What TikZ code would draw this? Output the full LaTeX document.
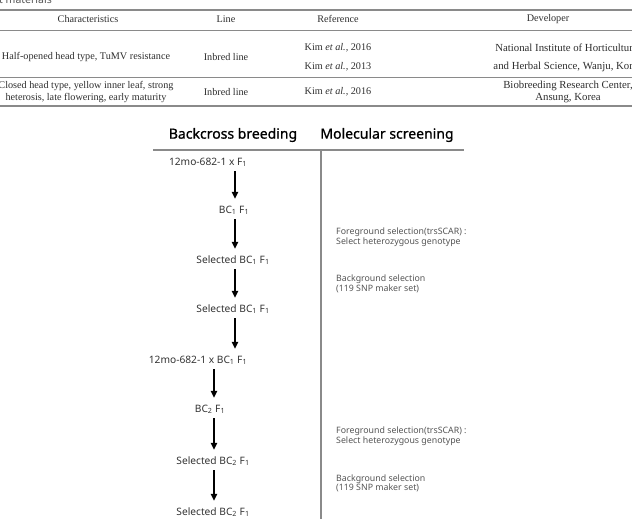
\documentclass[tikz,border=0pt]{standalone}
\usepackage{fontspec}
\setmainfont{Liberation Serif}
\newfontfamily\flowfont{Noto Sans}
\newfontfamily\headfont{Noto Sans}[FakeBold=0.9]
\usetikzlibrary{arrows.meta}
\definecolor{tabtext}{HTML}{2E2E2E}
\definecolor{rulegray}{HTML}{8A8A8A}
\definecolor{flowtext}{HTML}{333333}
\definecolor{notetext}{HTML}{555555}
\newcommand{\sbs}[1]{\textsubscript{#1}}
\begin{document}
\begin{tikzpicture}[x=1pt,y=-1pt,
  tabhead/.style={font=\fontsize{10.2}{11}\selectfont, text=tabtext, inner sep=0pt, align=center},
  tabtxt/.style={font=\fontsize{10.2}{11.2}\selectfont, text=tabtext, inner sep=0pt, align=center},
  devtxt/.style={font=\fontsize{10.8}{11.6}\selectfont, text=tabtext, inner sep=0pt, align=center},
  tabrule/.style={draw=rulegray, line width=0.9pt},
  flowhead/.style={font=\headfont\fontsize{14}{16}\selectfont, text=black, inner sep=0pt},
  flowbox/.style={font=\flowfont\fontsize{10.2}{12}\selectfont, text=flowtext, inner sep=0pt, text height=7pt, text depth=3pt},
  notebox/.style={font=\flowfont\fontsize{8.8}{9.6}\selectfont, text=notetext, inner sep=0pt, align=left, anchor=west},
  flowarrow/.style={draw=black, line width=1.3pt, -{Triangle[width=6.5pt,length=7pt]}, shorten <=3pt, shorten >=7pt},
  divline/.style={draw=rulegray, line width=1.1pt}
]
\useasboundingbox (0,0) rectangle (632,525);
\clip (0,0) rectangle (632,525);

% ---------- table ----------
\node[font=\flowfont\fontsize{10.5}{12}\selectfont, text=notetext, anchor=base west, inner sep=0pt] (cap) at (-1,3) {t materials};
\draw[tabrule, line width=1.2pt] (0,10) -- (632,10);
\draw[tabrule] (0,30) -- (632,30);
\draw[tabrule] (0,77) -- (632,77);
\draw[tabrule, line width=1.2pt] (0,106) -- (632,106);

\node[tabhead] (h1) at (88,19) {Characteristics};
\node[tabhead] (h2) at (226,19) {Line};
\node[tabhead] (h3) at (338,19) {Reference};
\node[tabhead] (h4) at (548,19) {Developer};

\node[tabtxt] (r1c1) at (86,57) {Half-opened head type, TuMV resistance};
\node[tabtxt] (r1c2) at (226,57) {Inbred line};
\node[tabtxt] (r1c3a) at (338,48) {Kim \textit{et al.,} 2016};
\node[tabtxt] (r1c3b) at (338,67) {Kim \textit{et al.,} 2013};
\node[devtxt] (r1c4a) at (568,48) {National Institute of Horticultural};
\node[devtxt] (r1c4b) at (568,67) {and Herbal Science, Wanju, Korea};

\node[tabtxt] (r2c1) at (86,92) {Closed head type, yellow inner leaf, strong\\heterosis, late flowering, early maturity};
\node[tabtxt] (r2c2) at (226,92) {Inbred line};
\node[tabtxt] (r2c3) at (338,92) {Kim \textit{et al.,} 2016};
\node[devtxt] (r2c4) at (568,92) {Biobreeding Research Center,\\Ansung, Korea};

% ---------- flow chart ----------
\node[flowhead] (hbc) at (233,135) {Backcross breeding};
\node[flowhead] (hms) at (387,135) {Molecular screening};
\draw[divline] (153,150) -- (464,150);
\draw[divline] (321,150) -- (321,519);

\node[flowbox] (n1) at (208,163) {12mo-682-1 x F\sbs{1}};
\node[flowbox] (n2) at (234,211) {BC\sbs{1} F\sbs{1}};
\node[flowbox] (n3) at (233,261) {Selected BC\sbs{1} F\sbs{1}};
\node[flowbox] (n4) at (233,310) {Selected BC\sbs{1} F\sbs{1}};
\node[flowbox] (n5) at (198,361) {12mo-682-1 x BC\sbs{1} F\sbs{1}};
\node[flowbox] (n6) at (210,410) {BC\sbs{2} F\sbs{1}};
\node[flowbox] (n7) at (213,462) {Selected BC\sbs{2} F\sbs{1}};
\node[flowbox] (n8) at (213,513) {Selected BC\sbs{2} F\sbs{1}};

\coordinate (xa) at (235,0);
\coordinate (xb) at (214,0);
\draw[flowarrow] (n1.south -| xa) -- (n2.north -| xa);
\draw[flowarrow] (n2.south -| xa) -- (n3.north -| xa);
\draw[flowarrow] (n3.south -| xa) -- (n4.north -| xa);
\draw[flowarrow] (n4.south -| xa) -- (n5.north -| xa);
\draw[flowarrow] (n5.south -| xb) -- (n6.north -| xb);
\draw[flowarrow] (n6.south -| xb) -- (n7.north -| xb);
\draw[flowarrow] (n7.south -| xb) -- (n8.north -| xb);

\node[notebox] (fg1) at (336,237.5) {Foreground selection(trsSCAR) :\\Select heterozygous genotype};
\node[notebox] (bg1) at (336,284) {Background selection\\(119 SNP maker set)};
\node[notebox] (fg2) at (336,436.5) {Foreground selection(trsSCAR) :\\Select heterozygous genotype};
\node[notebox] (bg2) at (336,483.5) {Background selection\\(119 SNP maker set)};
\end{tikzpicture}
\end{document}
